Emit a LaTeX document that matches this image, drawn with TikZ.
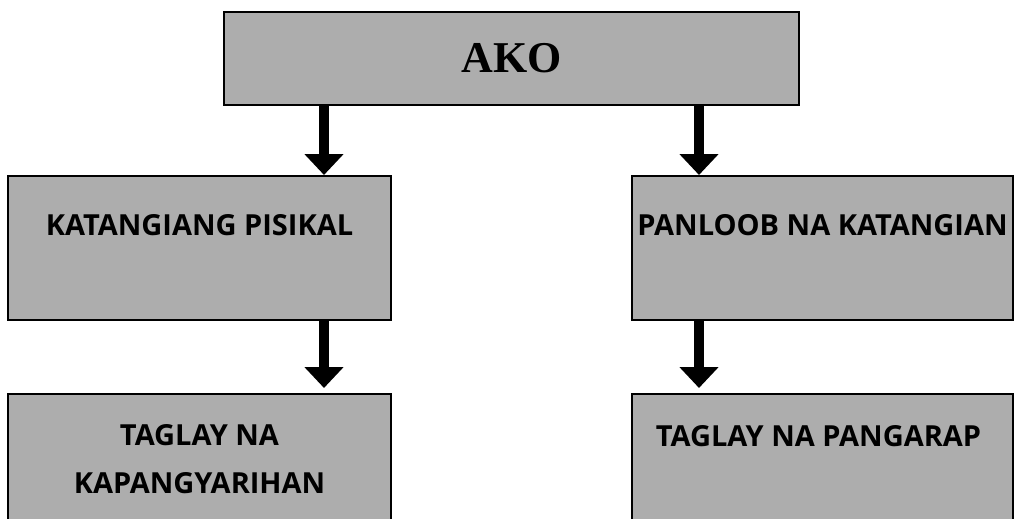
\documentclass[tikz,border=0pt]{standalone}
\usepackage{fontspec}
\setmainfont{Liberation Serif}
\setsansfont{Open Sans}
\usetikzlibrary{arrows.meta,positioning}
\definecolor{boxgray}{RGB}{173,173,173}

\begin{document}
\begin{tikzpicture}[x=1pt,y=1pt,
box/.style = {% gray boxes
    draw=black, line width=2pt, fill=boxgray, inner sep=0pt,
            },
lbl/.style = {% texts in the boxes
    inner sep=0pt, align=center,
    font=\sffamily\bfseries\fontsize{29}{48}\selectfont,
            },
arr/.style = {% thick arrows
    line width=9.5pt, -{Triangle[width=38pt,length=21pt]},
            },                        ]

  \useasboundingbox (0,0) rectangle (1015,-519);
  \clip (0,0) rectangle (1015,-519);

  \node[box, minimum width=575pt, minimum height=93pt,
        font=\bfseries\fontsize{44}{44}\selectfont]
        (ako) at (511.5,-58.5) {AKO};

  \node[box, minimum width=383pt, minimum height=144pt]
        (pisikal) at (199.5,-248) {};
  \node[box, minimum width=381pt, minimum height=144pt]
        (panloob) at (822.5,-248) {};
  \node[box, minimum width=383pt, minimum height=146pt]
        (kapangyarihan) at (199.5,-467) {};
  \node[box, minimum width=381pt, minimum height=146pt]
        (pangarap) at (822.5,-467) {};

  \node[lbl, below=39pt of pisikal.north] (tpisikal) {KATANGIANG PISIKAL};
  \node[lbl, below=39pt of panloob.north] (tpanloob) {PANLOOB NA KATANGIAN};
  \node[lbl, below=31pt of kapangyarihan.north] (tkapangyarihan)
        {TAGLAY NA\\KAPANGYARIHAN};
  \node[lbl, below=32pt of pangarap.north, xshift=-4pt] (tpangarap)
        {TAGLAY NA PANGARAP};

  % arrows
  \coordinate (la) at (324,0);
  \coordinate (ra) at (699,0);
  \draw[arr] (ako.south -| la) -- (pisikal.north -| la);
  \draw[arr] (ako.south -| ra) -- (panloob.north -| ra);
  \draw[arr, shorten >=5pt] (pisikal.south -| la) -- (kapangyarihan.north -| la);
  \draw[arr, shorten >=5pt] (panloob.south -| ra) -- (pangarap.north -| ra);

\end{tikzpicture}
\end{document}
